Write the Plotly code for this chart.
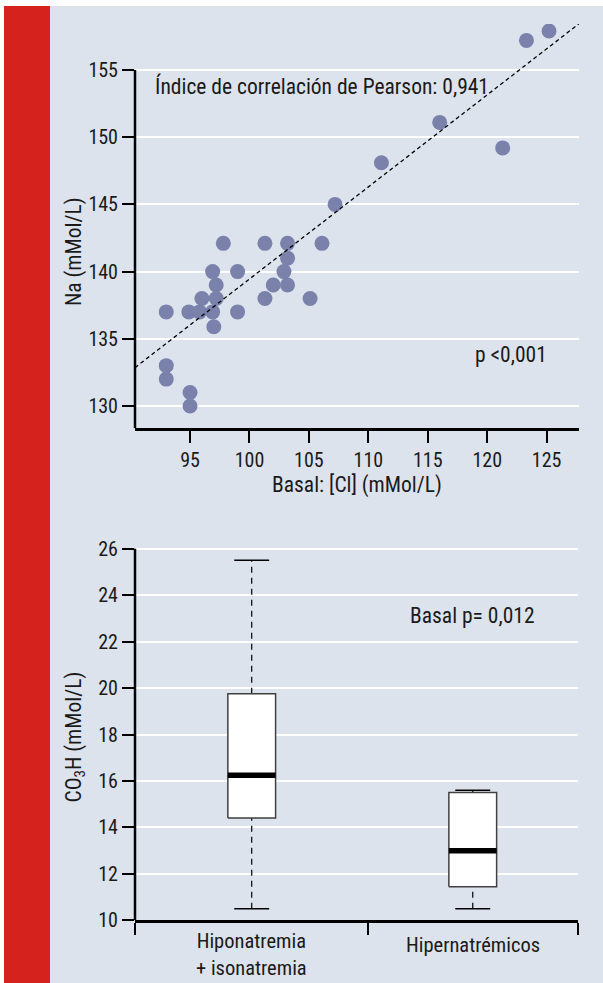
import plotly.graph_objects as go

# ---------------- data ----------------
# Top panel: basal chloride vs sodium
cl_basal = [125.2, 123.3, 116.0, 121.3, 111.1, 107.2,
            97.8, 101.3, 103.2, 106.1, 103.2,
            96.9, 99.0, 102.9,
            97.2, 102.0, 103.2,
            96.0, 97.2, 101.3, 105.1,
            93.0, 94.9, 95.8, 96.9, 99.0,
            97.0, 93.0, 93.0, 95.0, 95.0]
na_basal = [157.9, 157.2, 151.1, 149.2, 148.1, 145.0,
            142.1, 142.1, 142.1, 142.1, 141.0,
            140.0, 140.0, 140.0,
            139.0, 139.0, 139.0,
            138.0, 138.0, 138.0, 138.0,
            137.0, 137.0, 137.0, 137.0, 137.0,
            135.9, 133.0, 132.0, 131.0, 130.0]
fit_intercept = 70.95
fit_slope = 0.685
x_ticks_top = [95, 100, 105, 110, 115, 120, 125]
y_ticks_top = [130, 135, 140, 145, 150, 155]

# Bottom panel: CO3H boxplots
groups = ["Hiponatremia<br>+ isonatremia", "Hipernatrémicos"]
co3h_min = [10.5, 10.5]
co3h_q1 = [14.4, 11.45]
co3h_median = [16.25, 13.0]
co3h_q3 = [19.75, 15.5]
co3h_max = [25.5, 15.6]
y_ticks_bot = [10, 12, 14, 16, 18, 20, 22, 24, 26]

# ---------------- styling ----------------
W, H = 603, 983
FONT = "Liberation Sans Narrow, Arial Narrow, Roboto Condensed, Roboto, sans-serif"
BG = "#dde3ec"
RED = "#d5221c"
DOT = "#7a82ac"


def pxx(p):
    return p / W


def pxy(p):
    return 1 - p / H


x_rng_top = [90.37, 127.72]
y_rng_top = [128.34, 158.42]
y_rng_bot = [10, 26.16]
x_rng_bot = [0.472, 2.478]
pos = [1, 2]
bw = 0.108   # half box width
cw = 0.079   # half cap width

fig = go.Figure()

# scatter points
fig.add_trace(go.Scatter(x=cl_basal, y=na_basal, mode="markers",
                         marker=dict(size=15, color=DOT, line=dict(width=0)),
                         xaxis="x", yaxis="y", showlegend=False, hoverinfo="x+y"))
# regression line (drawn over the points)
fx = [x_rng_top[0], x_rng_top[1]]
fy = [fit_intercept + fit_slope * v for v in fx]
fig.add_trace(go.Scatter(x=fx, y=fy, mode="lines",
                         line=dict(color="black", width=1.3, dash="4px,3px"),
                         xaxis="x", yaxis="y", showlegend=False, hoverinfo="skip"))

# boxplots
for i, c in enumerate(pos):
    fig.add_trace(go.Scatter(x=[c, c, None, c, c],
                             y=[co3h_q3[i], co3h_max[i], None, co3h_min[i], co3h_q1[i]],
                             mode="lines", line=dict(color="black", width=1.2, dash="6px,5px"),
                             xaxis="x2", yaxis="y2", showlegend=False, hoverinfo="skip"))
    fig.add_trace(go.Scatter(x=[c - cw, c + cw, None, c - cw, c + cw],
                             y=[co3h_max[i], co3h_max[i], None, co3h_min[i], co3h_min[i]],
                             mode="lines", line=dict(color="black", width=1.5),
                             xaxis="x2", yaxis="y2", showlegend=False, hoverinfo="skip"))
    fig.add_trace(go.Scatter(x=[c - bw, c + bw, c + bw, c - bw, c - bw],
                             y=[co3h_q1[i], co3h_q1[i], co3h_q3[i], co3h_q3[i], co3h_q1[i]],
                             mode="lines", fill="toself", fillcolor="white",
                             line=dict(color="#404040", width=1.5),
                             xaxis="x2", yaxis="y2", showlegend=False, hoverinfo="skip"))
    fig.add_trace(go.Scatter(x=[c - bw, c + bw], y=[co3h_median[i], co3h_median[i]],
                             mode="lines", line=dict(color="black", width=5.5),
                             xaxis="x2", yaxis="y2", showlegend=False, hoverinfo="skip"))

tickfont = dict(family=FONT, size=20, color="#1a1a1a")
txtfont = dict(family=FONT, size=21.5, color="#1a1a1a")
catfont = dict(family=FONT, size=20.5, color="#1a1a1a")

fig.update_layout(
    width=W, height=H,
    margin=dict(l=0, r=0, t=0, b=0, pad=0, autoexpand=False),
    paper_bgcolor=BG, plot_bgcolor="rgba(0,0,0,0)",
    font=dict(family=FONT, color="#1a1a1a"),
    showlegend=False,
    xaxis=dict(domain=[pxx(135), pxx(579)], range=x_rng_top, tickvals=x_ticks_top,
               ticks="outside", ticklen=12, tickwidth=1.5, tickcolor="black",
               showline=True, linewidth=2.5, linecolor="black", showgrid=False,
               zeroline=False, tickfont=tickfont, anchor="y", automargin=False),
    yaxis=dict(domain=[pxy(428.3), pxy(24)], range=y_rng_top, tickvals=y_ticks_top,
               ticks="outside", ticklen=12, tickwidth=1.5, tickcolor="black",
               showline=False, showgrid=True, gridcolor="white", gridwidth=1.5,
               zeroline=False, tickfont=tickfont, anchor="x", automargin=False),
    xaxis2=dict(domain=[pxx(135), pxx(578.4)], range=x_rng_bot,
                tickvals=[0.4726, 1.527, 2.4772], showticklabels=False,
                ticks="outside", ticklen=12, tickwidth=1.5, tickcolor="black",
                showline=True, linewidth=2.5, linecolor="black", showgrid=False,
                zeroline=False, anchor="y2", automargin=False),
    yaxis2=dict(domain=[pxy(920.3), pxy(545)], range=y_rng_bot, tickvals=y_ticks_bot,
                ticks="outside", ticklen=12, tickwidth=1.5, tickcolor="black",
                showline=False, showgrid=True, gridcolor="white", gridwidth=1.5,
                zeroline=False, tickfont=tickfont, anchor="x2", automargin=False),
)

shapes = [
    dict(type="rect", xref="paper", yref="paper", x0=-0.05, x1=1.05, y0=pxy(6), y1=1.05,
         fillcolor="white", line=dict(width=0), layer="below"),
    dict(type="rect", xref="paper", yref="paper", x0=-0.05, x1=pxx(4), y0=-0.05, y1=1.05,
         fillcolor="white", line=dict(width=0), layer="below"),
    dict(type="rect", xref="paper", yref="paper", x0=pxx(4), x1=pxx(50), y0=-0.05, y1=pxy(6),
         fillcolor=RED, line=dict(width=0), layer="below"),
    dict(type="line", xref="x domain", yref="y", x0=0, x1=0,
         y0=y_rng_top[0], y1=y_ticks_top[-1], line=dict(color="black", width=2.5)),
    dict(type="line", xref="x2 domain", yref="y2", x0=0, x1=0,
         y0=y_rng_bot[0], y1=y_ticks_bot[-1], line=dict(color="black", width=2.5)),
]
fig.update_layout(shapes=shapes)

annotations = [
    dict(text="Índice de correlación de Pearson: 0,941", xref="x", yref="y",
         x=91.9, y=153.8, xanchor="left", yanchor="middle", showarrow=False, font=txtfont),
    dict(text="p <0,001", xref="x", yref="y", x=122.0, y=133.8,
         xanchor="center", yanchor="middle", showarrow=False, font=txtfont),
    dict(text="Basal: [Cl] (mMol/L)", xref="paper", yref="paper", x=pxx(357), y=pxy(485),
         xanchor="center", yanchor="middle", showarrow=False, font=txtfont),
    dict(text="Na (mMol/L)", xref="paper", yref="paper", x=pxx(73.5), y=pxy(251.5),
         xanchor="center", yanchor="middle", textangle=-90, showarrow=False, font=txtfont),
    dict(text="CO<sub>3</sub>H (mMol/L)", xref="paper", yref="paper", x=pxx(74.5), y=pxy(737),
         xanchor="center", yanchor="middle", textangle=-90, showarrow=False, font=txtfont),
    dict(text="Basal p= 0,012", xref="x2", yref="y2", x=2.0, y=23.13,
         xanchor="center", yanchor="middle", showarrow=False, font=txtfont),
]
label_centers_px = [954, 945.2]
for i, c in enumerate(pos):
    annotations.append(dict(text=groups[i], xref="x2", yref="paper", x=c,
                            y=pxy(label_centers_px[i]),
                            xanchor="center", yanchor="middle", showarrow=False,
                            borderpad=0, font=catfont))
fig.update_layout(annotations=annotations)

fig.write_html("out.html",
               config={"displayModeBar": False},
               post_script="document.documentElement.style.margin='0';"
                           "document.documentElement.style.overflow='hidden';"
                           "document.body.style.margin='0';"
                           "document.body.style.overflow='hidden';")
